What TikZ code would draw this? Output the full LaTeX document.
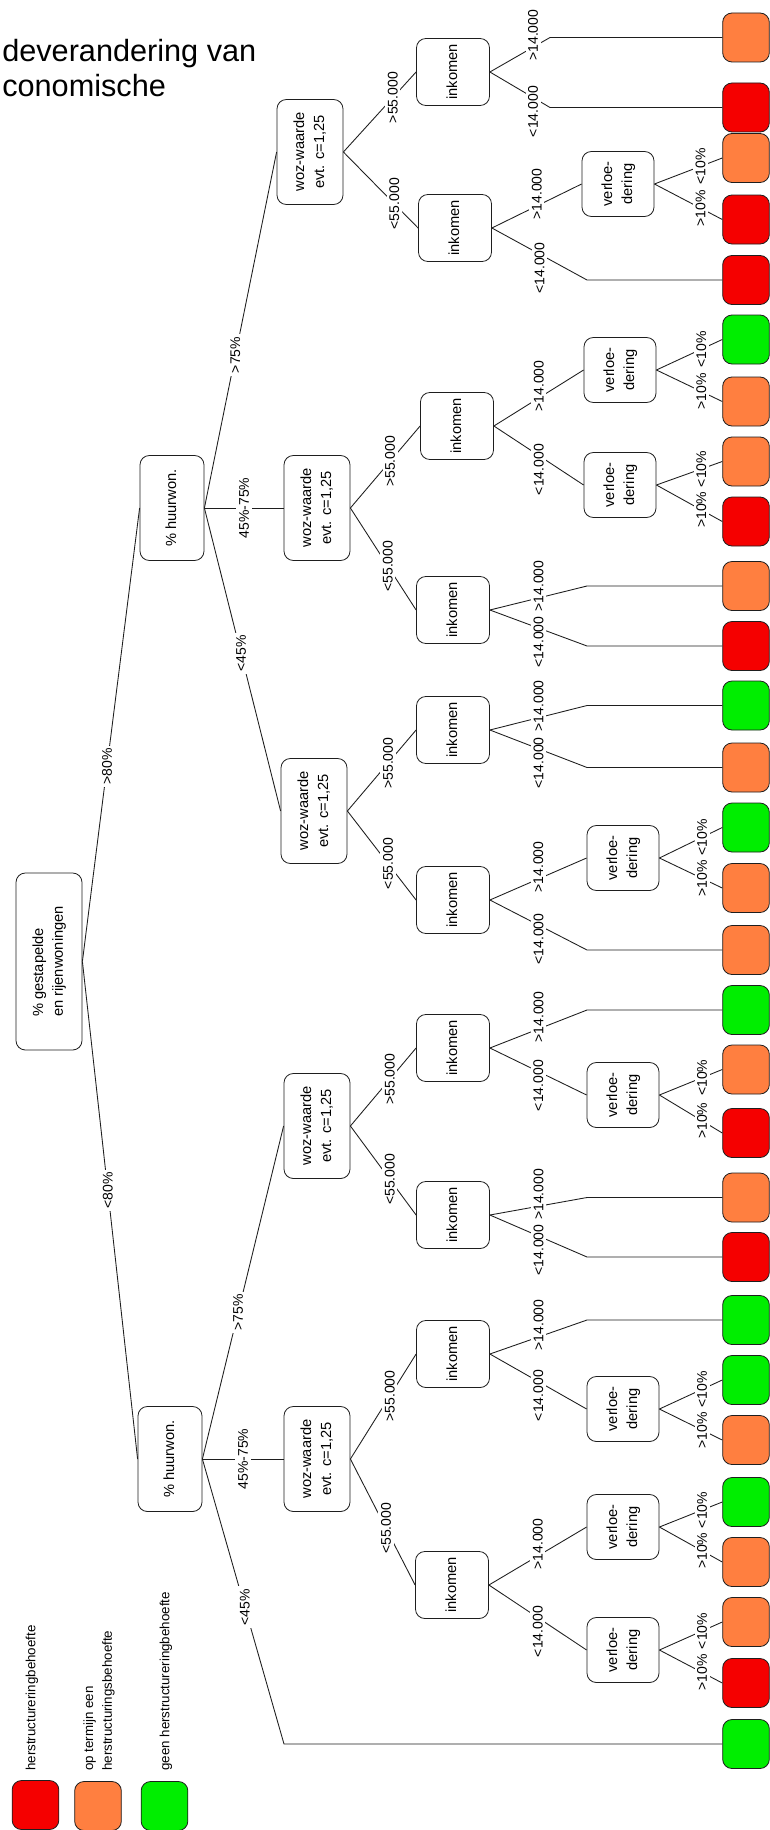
\documentclass[tikz,border=0pt]{standalone}
\usepackage{graphicx}
\usepackage{fontspec}
\setmainfont{Liberation Sans}
\definecolor{lred}{RGB}{245,0,0}
\definecolor{lorange}{RGB}{255,127,64}
\definecolor{lgreen}{RGB}{0,238,0}
\definecolor{edgecol}{RGB}{30,30,30}
\newcommand{\rtxt}[1]{\rotatebox{90}{\begin{tabular}{@{}c@{}}#1\end{tabular}}}
\newcommand{\rtxtl}[1]{\rotatebox{90}{\begin{tabular}{@{}l@{}}#1\end{tabular}}}
\begin{document}
\begin{tikzpicture}[x=0.75pt,y=-0.75pt,
  box/.style={draw=edgecol, line width=0.6pt, rounded corners=7pt, fill=white, inner sep=0pt,
    font=\fontsize{11}{15}\selectfont},
  rootbox/.style={box, minimum width=49.5pt, minimum height=132.75pt},
  hbox/.style={box, minimum width=48pt, minimum height=78.75pt},
  wbox/.style={box, minimum width=49.5pt, minimum height=78.75pt},
  ibox/.style={box, minimum width=54.75pt, minimum height=50.25pt},
  vbox/.style={box, minimum width=54pt, minimum height=48.75pt},
  leaf/.style={draw=edgecol, line width=0.6pt, rounded corners=7pt, minimum width=35pt, minimum height=36.75pt, inner sep=0pt},
  ln/.style={draw=edgecol, line width=0.65pt},
  lbl/.style={fill=white, inner sep=2pt, rotate=90, font=\fontsize{10.5}{12}\selectfont},
  up/.style={yshift=9pt},
  dn/.style={yshift=-10.5pt},
  legtxt/.style={rotate=90, anchor=west, inner sep=0pt, align=left, font=\fontsize{10}{14}\selectfont},
  title/.style={anchor=base west, inner sep=0pt, font=\fontsize{23}{26}\selectfont}
]
\fill[white] (0,0) rectangle (770,1830);
\useasboundingbox (0,0) rectangle (770,1830);

% title fragment
\node[title] (t1) at (2,62) {deverandering van};
\node[title] (t2) at (2,97) {conomische};

% helper x-positions for bends
\coordinate (bA) at (550,0);
\coordinate (bB) at (587,0);
\coordinate (bC) at (284,0);

% structure nodes
\node[rootbox] (root) at (49,961.5) {\rtxtl{\% gestapelde\\en rijenwoningen}};
\node[hbox] (H1) at (172,508) {\rtxt{\% huurwon.}};
\node[hbox] (H2) at (170,1459) {\rtxt{\% huurwon.}};

\node[wbox] (W1) at (310,152) {\rtxt{woz-waarde\\evt. c=1,25}};
\node[wbox] (W2) at (317,508) {\rtxt{woz-waarde\\evt. c=1,25}};
\node[wbox] (W3) at (314,811) {\rtxt{woz-waarde\\evt. c=1,25}};
\node[wbox] (W4) at (317,1126) {\rtxt{woz-waarde\\evt. c=1,25}};
\node[wbox] (W5) at (317,1459) {\rtxt{woz-waarde\\evt. c=1,25}};

\node[ibox] (I1) at (453,72) {\rtxt{inkomen}};
\node[ibox] (I2) at (455,228) {\rtxt{inkomen}};
\node[ibox] (I3) at (457,426) {\rtxt{inkomen}};
\node[ibox] (I4) at (453,610) {\rtxt{inkomen}};
\node[ibox] (I5) at (453,730) {\rtxt{inkomen}};
\node[ibox] (I6) at (453,900) {\rtxt{inkomen}};
\node[ibox] (I7) at (453,1048) {\rtxt{inkomen}};
\node[ibox] (I8) at (453,1215) {\rtxt{inkomen}};
\node[ibox] (I9) at (453,1354) {\rtxt{inkomen}};
\node[ibox] (I10) at (452,1585) {\rtxt{inkomen}};

\node[vbox] (V1) at (618,184) {\rtxt{verloe-\\dering}};
\node[vbox] (V2) at (620,370) {\rtxt{verloe-\\dering}};
\node[vbox] (V3) at (620,485) {\rtxt{verloe-\\dering}};
\node[vbox] (V4) at (623,858) {\rtxt{verloe-\\dering}};
\node[vbox] (V5) at (623,1095) {\rtxt{verloe-\\dering}};
\node[vbox] (V6) at (623,1409) {\rtxt{verloe-\\dering}};
\node[vbox] (V7) at (623,1527) {\rtxt{verloe-\\dering}};
\node[vbox] (V8) at (623,1650) {\rtxt{verloe-\\dering}};

% leaves
\foreach \i/\yy/\c in {1/37.5/lorange,2/107.5/lred,3/158/lorange,4/219.5/lred,5/280/lred,
  6/339.5/lgreen,7/401.5/lorange,8/461.5/lorange,9/521.5/lred,10/586/lorange,
  11/646/lred,12/705.5/lgreen,13/767.5/lorange,14/827.5/lgreen,15/888/lorange,
  16/950/lorange,17/1010/lgreen,18/1069.5/lorange,19/1133/lred,20/1197.5/lorange,
  21/1257/lred,22/1320/lgreen,23/1380/lgreen,24/1440/lorange,25/1502/lgreen,
  26/1562/lorange,27/1622/lorange,28/1683/lred,29/1744/lgreen}
  {\node[leaf, fill=\c] (L\i) at (746,\yy) {};}

% level 1
\draw[ln] (root.east) -- node[lbl,pos=.43]{>80\%} (H1.west);
\draw[ln] (root.east) -- node[lbl,pos=.46]{<80\%} (H2.west);

% level 2
\draw[ln] (H1.east) -- node[lbl,pos=.43]{>75\%} (W1.west);
\draw[ln] (H1.east) -- node[lbl,pos=.5]{45\%-75\%} (W2.west);
\draw[ln] (H1.east) -- node[lbl,pos=.48]{<45\%} (W3.west);
\draw[ln] (H2.east) -- node[lbl,pos=.44]{>75\%} (W4.west);
\draw[ln] (H2.east) -- node[lbl,pos=.5]{45\%-75\%} (W5.west);
\draw[ln] (H2.east) -- node[lbl,pos=.52]{<45\%} (bC |- L29.west) -- (L29.west);

% level 3
\draw[ln] (W1.east) -- node[lbl,pos=.68]{>55.000} (I1.west);
\draw[ln] (W1.east) -- node[lbl,pos=.68]{<55.000} (I2.west);
\draw[ln] (W2.east) -- node[lbl,pos=.57]{>55.000} (I3.west);
\draw[ln] (W2.east) -- node[lbl,pos=.57]{<55.000} (I4.west);
\draw[ln] (W3.east) -- node[lbl,pos=.59]{>55.000} (I5.west);
\draw[ln] (W3.east) -- node[lbl,pos=.59]{<55.000} (I6.west);
\draw[ln] (W4.east) -- node[lbl,pos=.6]{>55.000} (I7.west);
\draw[ln] (W4.east) -- node[lbl,pos=.6]{<55.000} (I8.west);
\draw[ln] (W5.east) -- node[lbl,pos=.6]{>55.000} (I9.west);
\draw[ln] (W5.east) -- node[lbl,pos=.55]{<55.000} (I10.west);

% level 4 (shift is given before the rotation, so it acts vertically on the page)
\draw[ln] (I1.east) -- node[up,lbl,pos=.72]{>14.000} (bA |- L1.west) -- (L1.west);
\draw[ln] (I1.east) -- node[dn,lbl,pos=.72]{<14.000} (bA |- L2.west) -- (L2.west);
\draw[ln] (I2.east) -- node[up,lbl,pos=.5]{>14.000} (V1.west);
\draw[ln] (I2.east) -- node[dn,lbl,pos=.5]{<14.000} (bB |- L5.west) -- (L5.west);
\draw[ln] (I3.east) -- node[up,lbl,pos=.5]{>14.000} (V2.west);
\draw[ln] (I3.east) -- node[dn,lbl,pos=.5]{<14.000} (V3.west);
\draw[ln] (I4.east) -- node[up,lbl,pos=.5]{>14.000} (bB |- L10.west) -- (L10.west);
\draw[ln] (I4.east) -- node[dn,lbl,pos=.5]{<14.000} (bB |- L11.west) -- (L11.west);
\draw[ln] (I5.east) -- node[up,lbl,pos=.5]{>14.000} (bB |- L12.west) -- (L12.west);
\draw[ln] (I5.east) -- node[dn,lbl,pos=.5]{<14.000} (bB |- L13.west) -- (L13.west);
\draw[ln] (I6.east) -- node[up,lbl,pos=.5]{>14.000} (V4.west);
\draw[ln] (I6.east) -- node[dn,lbl,pos=.5]{<14.000} (bB |- L16.west) -- (L16.west);
\draw[ln] (I7.east) -- node[up,lbl,pos=.5]{>14.000} (bB |- L17.west) -- (L17.west);
\draw[ln] (I7.east) -- node[dn,lbl,pos=.5]{<14.000} (V5.west);
\draw[ln] (I8.east) -- node[up,lbl,pos=.5]{>14.000} (bB |- L20.west) -- (L20.west);
\draw[ln] (I8.east) -- node[dn,lbl,pos=.5]{<14.000} (bB |- L21.west) -- (L21.west);
\draw[ln] (I9.east) -- node[up,lbl,pos=.5]{>14.000} (bB |- L22.west) -- (L22.west);
\draw[ln] (I9.east) -- node[dn,lbl,pos=.5]{<14.000} (V6.west);
\draw[ln] (I10.east) -- node[up,lbl,pos=.5]{>14.000} (V7.west);
\draw[ln] (I10.east) -- node[dn,lbl,pos=.5]{<14.000} (V8.west);

% level 5
\foreach \v/\a/\b in {V1/L3/L4, V2/L6/L7, V3/L8/L9, V4/L14/L15, V5/L18/L19, V6/L23/L24, V7/L25/L26, V8/L27/L28}
{
  \draw[ln] (\v.east) -- node[lbl,pos=.68]{<10\%} (\a.west);
  \draw[ln] (\v.east) -- node[lbl,pos=.68]{>10\%} (\b.west);
}

% legend
\node[leaf, fill=lred] (kR) at (35.5,1805) {};
\node[leaf, fill=lorange] (kO) at (98,1806) {};
\node[leaf, fill=lgreen] (kG) at (164.5,1806) {};
\node[legtxt] (tR) at (32,1771) {herstructureringbehoefte};
\node[legtxt] (tO) at (99,1771) {op termijn een\\herstructuringsbehoefte};
\node[legtxt] (tG) at (166,1771) {geen herstructureringbehoefte};
\end{tikzpicture}
\end{document}
